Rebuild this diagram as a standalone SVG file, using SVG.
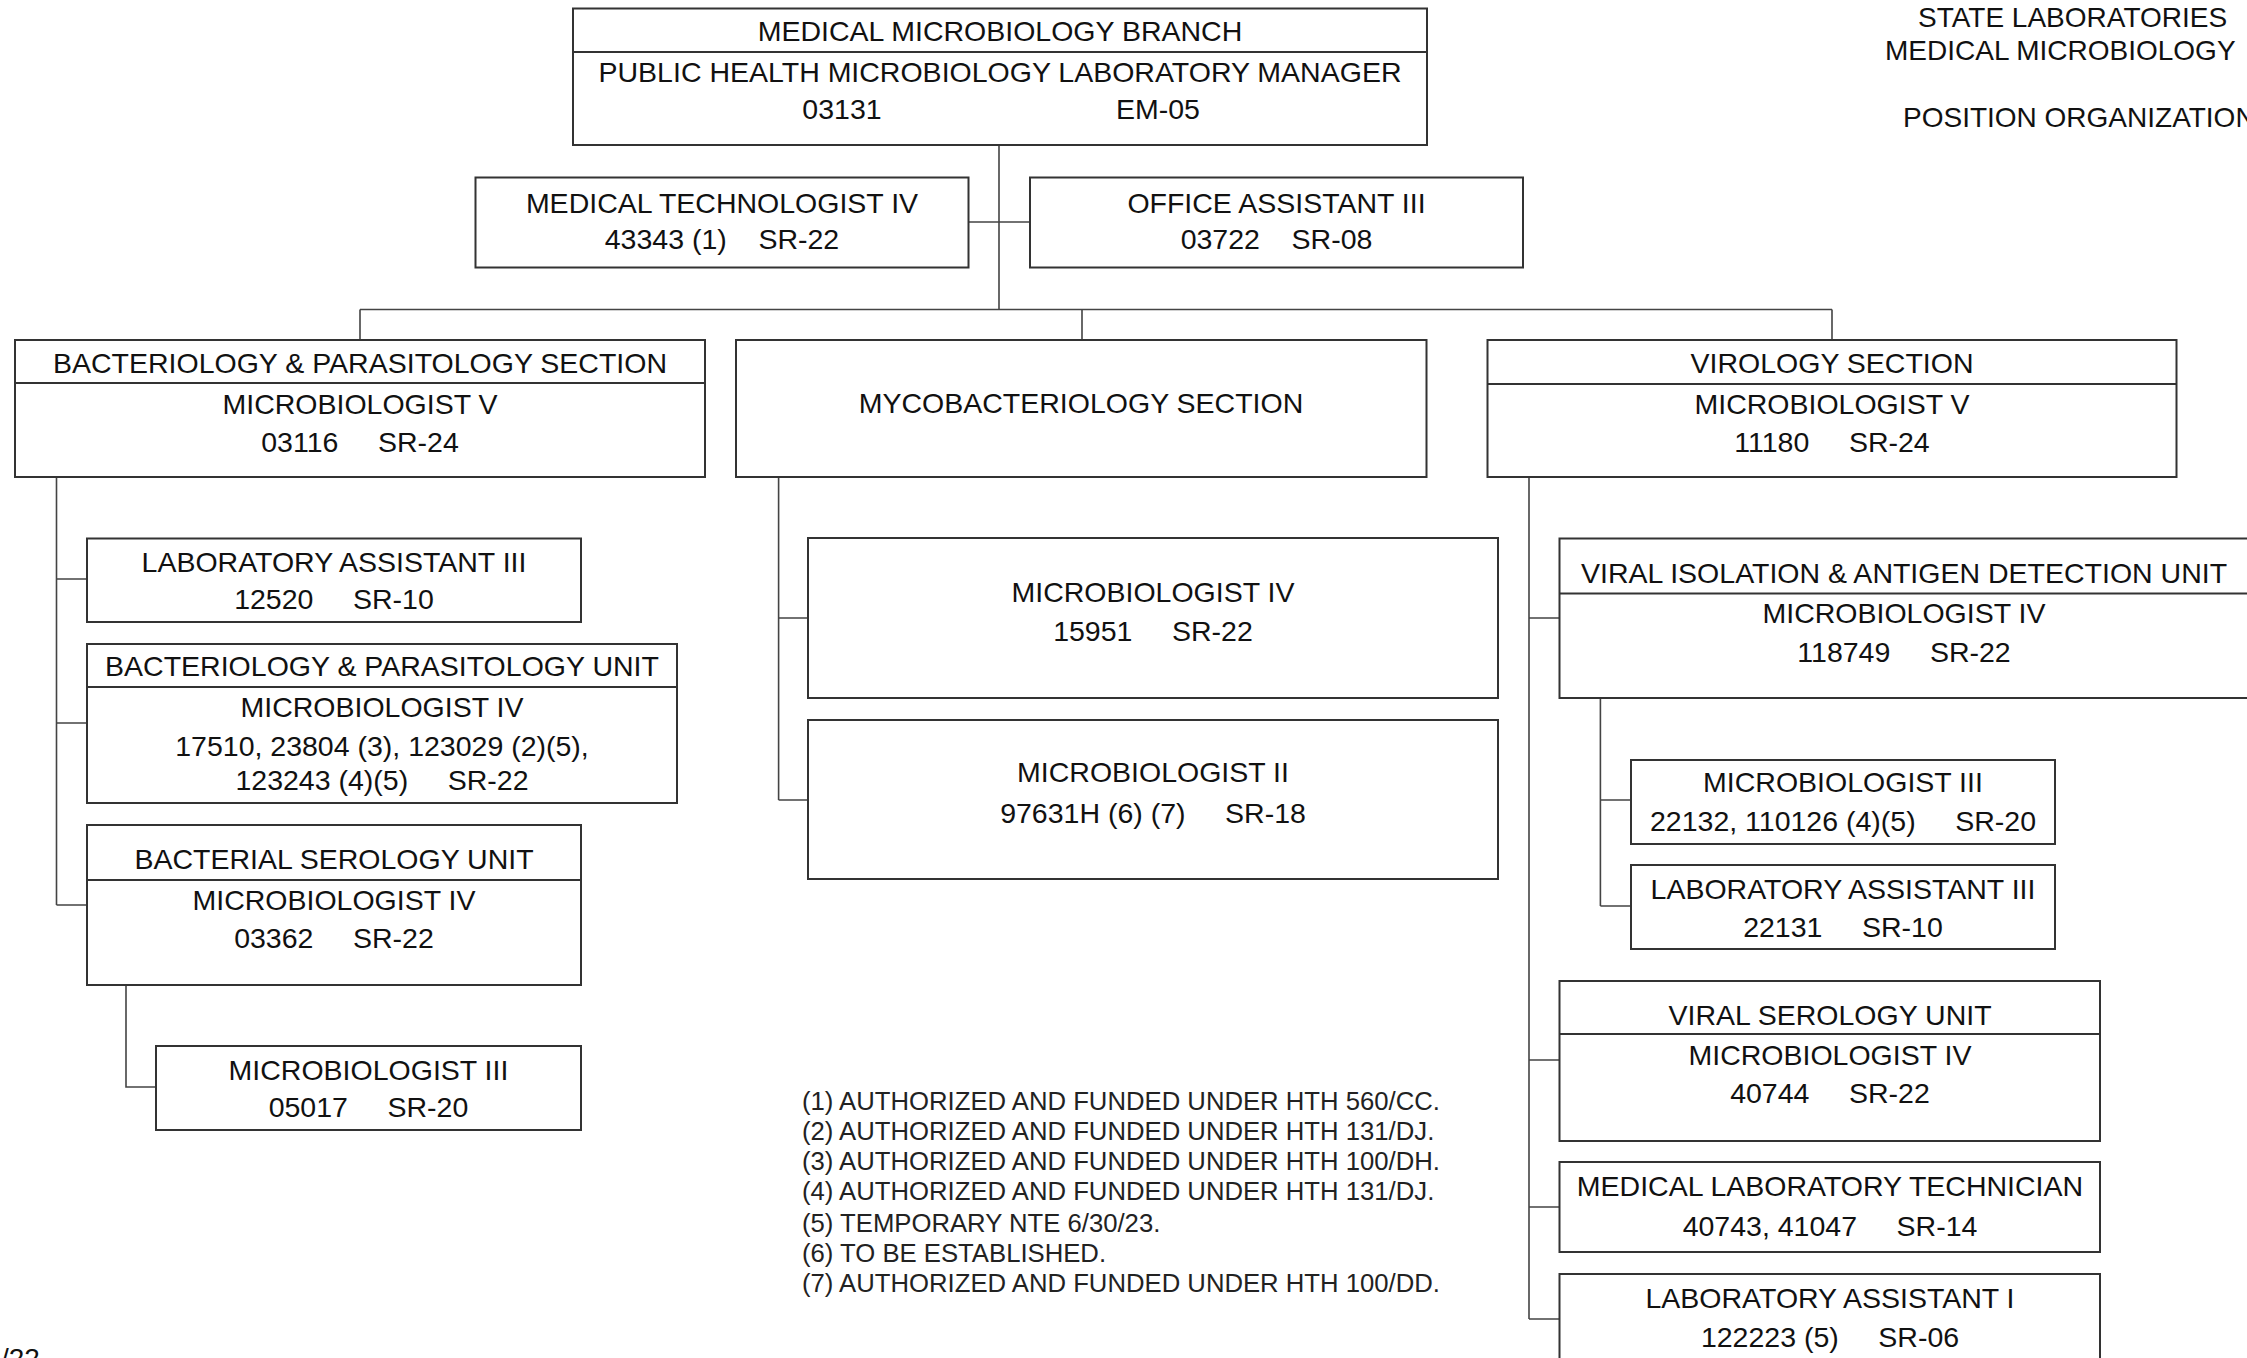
<svg xmlns="http://www.w3.org/2000/svg" width="2247" height="1358" viewBox="0 0 2247 1358">
<style>
  .bx { fill: #fff; stroke: #333; stroke-width: 2; }
  .dv { stroke: #333; stroke-width: 1.8; fill: none; }
  .cn { stroke: #444; stroke-width: 1.6; fill: none; }
  .t { font-family: "Liberation Sans", Arial, sans-serif; font-size: 28.5px; text-anchor: middle; fill: #111; white-space: pre; }
  .hd { font-family: "Liberation Sans", Arial, sans-serif; font-size: 28px; fill: #111; white-space: pre; }
  .fn { font-family: "Liberation Sans", Arial, sans-serif; font-size: 25.7px; fill: #222; white-space: pre; }
</style>
<rect x="0" y="0" width="2247" height="1358" fill="#fff"/>

<g id="connectors">
  <path class="cn" d="M999 145 V309.5 M969 222 H1030 M360 309.5 H1832 M360 309.5 V340 M1082 309.5 V340 M1832 309.5 V340"/>
  <path class="cn" d="M56.5 477 V905 M56.5 579 H87 M56.5 723 H87 M56.5 905 H87"/>
  <path class="cn" d="M126 985 V1087 H156"/>
  <path class="cn" d="M778.6 477 V800 M778.6 618 H808 M778.6 800 H808"/>
  <path class="cn" d="M1529 477 V1319 M1529 618 H1559.5 M1529 1060 H1559.5 M1529 1207 H1559.5 M1529 1319 H1559.5"/>
  <path class="cn" d="M1600.4 698 V906 M1600.4 800 H1631 M1600.4 906 H1631"/>
</g>

<g id="title">
  <text class="hd" x="1918" y="27">STATE LABORATORIES</text>
  <text class="hd" x="1885" y="60">MEDICAL MICROBIOLOGY</text>
  <text class="hd" x="1903" y="127">POSITION ORGANIZATION</text>
</g>

<g id="n-branch">
  <rect class="bx" x="573" y="8.5" width="854" height="136.5"/>
  <line class="dv" x1="573" y1="52" x2="1427" y2="52"/>
  <text class="t" x="1000" y="41">MEDICAL MICROBIOLOGY BRANCH</text>
  <text class="t" x="1000" y="81.5">PUBLIC HEALTH MICROBIOLOGY LABORATORY MANAGER</text>
  <text class="t" x="842" y="119">03131</text>
  <text class="t" x="1158" y="119">EM-05</text>
</g>

<g id="n-medtech">
  <rect class="bx" x="475.5" y="177.5" width="493" height="90"/>
  <text class="t" x="722" y="213">MEDICAL TECHNOLOGIST IV</text>
  <text class="t" x="722" y="249">43343 (1)    SR-22</text>
</g>

<g id="n-office">
  <rect class="bx" x="1030" y="177.5" width="493" height="90"/>
  <text class="t" x="1276.5" y="213">OFFICE ASSISTANT III</text>
  <text class="t" x="1276.5" y="249">03722    SR-08</text>
</g>

<g id="n-bactsec">
  <rect class="bx" x="15" y="340" width="690" height="137"/>
  <line class="dv" x1="15" y1="383" x2="705" y2="383"/>
  <text class="t" x="360" y="373">BACTERIOLOGY &amp; PARASITOLOGY SECTION</text>
  <text class="t" x="360" y="414">MICROBIOLOGIST V</text>
  <text class="t" x="360" y="452">03116     SR-24</text>
</g>

<g id="n-mycosec">
  <rect class="bx" x="736" y="340" width="690.5" height="137"/>
  <text class="t" x="1081" y="413">MYCOBACTERIOLOGY SECTION</text>
</g>

<g id="n-virosec">
  <rect class="bx" x="1487.5" y="340" width="689" height="137"/>
  <line class="dv" x1="1487.5" y1="384" x2="2176.5" y2="384"/>
  <text class="t" x="1832" y="373">VIROLOGY SECTION</text>
  <text class="t" x="1832" y="414">MICROBIOLOGIST V</text>
  <text class="t" x="1832" y="452">11180     SR-24</text>
</g>

<g id="n-bact-la3">
  <rect class="bx" x="87" y="538.5" width="494" height="83.5"/>
  <text class="t" x="334" y="572">LABORATORY ASSISTANT III</text>
  <text class="t" x="334" y="609">12520     SR-10</text>
</g>

<g id="n-bactunit">
  <rect class="bx" x="87" y="644" width="590" height="159"/>
  <line class="dv" x1="87" y1="687" x2="677" y2="687"/>
  <text class="t" x="382" y="676">BACTERIOLOGY &amp; PARASITOLOGY UNIT</text>
  <text class="t" x="382" y="717">MICROBIOLOGIST IV</text>
  <text class="t" x="382" y="756">17510, 23804 (3), 123029 (2)(5),</text>
  <text class="t" x="382" y="790">123243 (4)(5)     SR-22</text>
</g>

<g id="n-bactsero">
  <rect class="bx" x="87" y="825" width="494" height="160"/>
  <line class="dv" x1="87" y1="880" x2="581" y2="880"/>
  <text class="t" x="334" y="869">BACTERIAL SEROLOGY UNIT</text>
  <text class="t" x="334" y="910">MICROBIOLOGIST IV</text>
  <text class="t" x="334" y="948">03362     SR-22</text>
</g>

<g id="n-bact-m3">
  <rect class="bx" x="156" y="1046" width="425" height="84"/>
  <text class="t" x="368.5" y="1080">MICROBIOLOGIST III</text>
  <text class="t" x="368.5" y="1117">05017     SR-20</text>
</g>

<g id="n-myco-m4">
  <rect class="bx" x="808" y="538" width="690" height="160"/>
  <text class="t" x="1153" y="602">MICROBIOLOGIST IV</text>
  <text class="t" x="1153" y="641">15951     SR-22</text>
</g>

<g id="n-myco-m2">
  <rect class="bx" x="808" y="720" width="690" height="159"/>
  <text class="t" x="1153" y="782">MICROBIOLOGIST II</text>
  <text class="t" x="1153" y="823">97631H (6) (7)     SR-18</text>
</g>

<g id="n-viadu">
  <rect class="bx" x="1559.5" y="538.5" width="689" height="159.5"/>
  <line class="dv" x1="1559.5" y1="593.5" x2="2248.5" y2="593.5"/>
  <text class="t" x="1904" y="583">VIRAL ISOLATION &amp; ANTIGEN DETECTION UNIT</text>
  <text class="t" x="1904" y="623">MICROBIOLOGIST IV</text>
  <text class="t" x="1904" y="662">118749     SR-22</text>
</g>

<g id="n-viro-m3">
  <rect class="bx" x="1631" y="760" width="424" height="84"/>
  <text class="t" x="1843" y="792">MICROBIOLOGIST III</text>
  <text class="t" x="1843" y="831">22132, 110126 (4)(5)     SR-20</text>
</g>

<g id="n-viro-la3">
  <rect class="bx" x="1631" y="865" width="424" height="84"/>
  <text class="t" x="1843" y="899">LABORATORY ASSISTANT III</text>
  <text class="t" x="1843" y="937">22131     SR-10</text>
</g>

<g id="n-virosero">
  <rect class="bx" x="1559.5" y="981" width="540.5" height="160"/>
  <line class="dv" x1="1559.5" y1="1034" x2="2100" y2="1034"/>
  <text class="t" x="1830" y="1025">VIRAL SEROLOGY UNIT</text>
  <text class="t" x="1830" y="1065">MICROBIOLOGIST IV</text>
  <text class="t" x="1830" y="1103">40744     SR-22</text>
</g>

<g id="n-mlt">
  <rect class="bx" x="1559.5" y="1162" width="540.5" height="90"/>
  <text class="t" x="1830" y="1196">MEDICAL LABORATORY TECHNICIAN</text>
  <text class="t" x="1830" y="1236">40743, 41047     SR-14</text>
</g>

<g id="n-la1">
  <rect class="bx" x="1559.5" y="1274" width="540.5" height="110"/>
  <text class="t" x="1830" y="1308">LABORATORY ASSISTANT I</text>
  <text class="t" x="1830" y="1347">122223 (5)     SR-06</text>
</g>

<g id="footnotes">
  <text class="fn" x="802" y="1110">(1) AUTHORIZED AND FUNDED UNDER HTH 560/CC.</text>
  <text class="fn" x="802" y="1140">(2) AUTHORIZED AND FUNDED UNDER HTH 131/DJ.</text>
  <text class="fn" x="802" y="1170">(3) AUTHORIZED AND FUNDED UNDER HTH 100/DH.</text>
  <text class="fn" x="802" y="1200">(4) AUTHORIZED AND FUNDED UNDER HTH 131/DJ.</text>
  <text class="fn" x="802" y="1232">(5) TEMPORARY NTE 6/30/23.</text>
  <text class="fn" x="802" y="1262">(6) TO BE ESTABLISHED.</text>
  <text class="fn" x="802" y="1292">(7) AUTHORIZED AND FUNDED UNDER HTH 100/DD.</text>
</g>

<text class="hd" x="1" y="1368">/22</text>
</svg>
